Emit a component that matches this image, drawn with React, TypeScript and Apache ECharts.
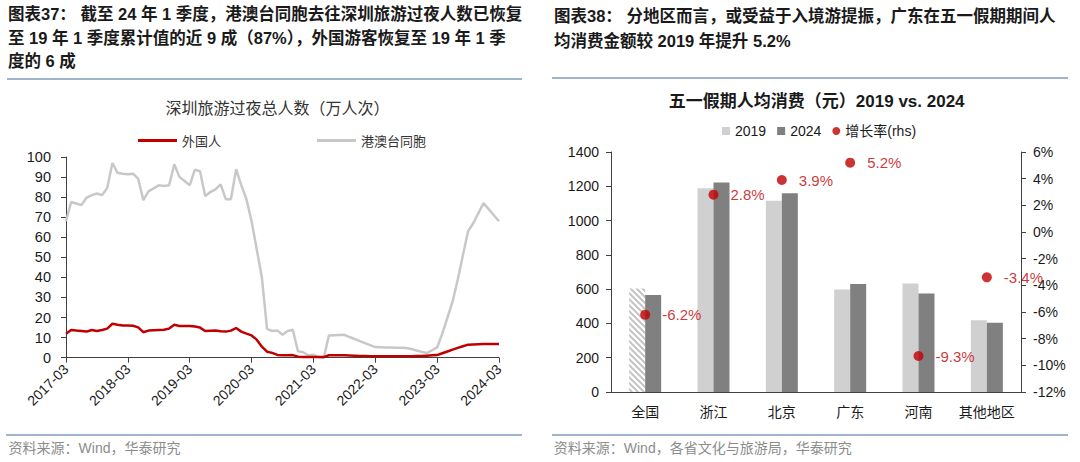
import React, { useEffect, useRef } from "react";
import * as echarts from "echarts";

// ---------- data ----------
const monthLabels: string[] = [];
for (let i = 0; i < 85; i++) {
  const m = 2 + i;
  const y = 2017 + Math.floor(m / 12);
  const mm = (m % 12) + 1;
  monthLabels.push(`${y}-${String(mm).padStart(2, "0")}`);
}

// 外国人 (万人次), 2017-03 .. 2024-03
const foreignVisitors = [
  11.9, 13.8, 13.5, 13.3, 13.0, 13.8, 13.3, 13.8, 14.5, 16.9,
  16.4, 16.1, 16.0, 15.9, 15.1, 12.7, 13.5, 13.7, 13.8, 13.9,
  14.5, 16.4, 15.8, 15.8, 15.8, 15.5, 15.0, 13.3, 13.4, 13.5,
  13.2, 13.0, 13.5, 14.8, 13.0, 12.0, 11.1, 9.0, 5.5, 3.0,
  2.4, 1.4, 1.2, 1.2, 1.3, 0.5, 0.4, 0.3, 0.3, 0.3,
  0.3, 1.2, 1.2, 1.2, 1.2, 1.1, 1.0, 0.9, 0.8, 0.7,
  0.7, 0.7, 0.7, 0.7, 0.7, 0.7, 0.7, 0.7, 0.8, 0.8,
  1.0, 1.2, 1.3, 2.2, 3.1, 4.0, 4.9, 5.7, 6.5, 6.6,
  6.7, 6.8, 6.8, 6.8, 6.8,
];

// 港澳台同胞 (万人次), 2017-03 .. 2024-03
const hkMacauTaiwan = [
  68, 77.6, 76.8, 76, 79.8, 81, 81.8, 81, 84.6, 97,
  92.1, 91.7, 91.4, 91.7, 89.2, 78.5, 82.9, 84.4, 85.9, 85.6,
  85.9, 96.4, 90.1, 88, 85.9, 93.7, 92.9, 80.6, 82.5, 83.9,
  86.4, 79, 79, 93.9, 86, 79, 68, 54, 40, 14.4,
  13.3, 13.6, 11.4, 13.3, 13.9, 3.2, 2.7, 1.2, 1.5, 0.3,
  0, 11.1, 11.2, 11.3, 11.4, 10.3, 9.3, 8.3, 7.3, 6.3,
  5.3, 5.2, 5.1, 5.1, 5.0, 4.9, 4.8, 4.3, 3.6, 2.9,
  2.3, 3.7, 5.1, 12, 20, 28, 39, 51, 63, 67,
  72, 77, 74, 71, 68,
];

const regions = ["全国", "浙江", "北京", "广东", "河南", "其他地区"];
const spend2019 = [604, 1188, 1116, 598, 633, 418];
const spend2024 = [566, 1222, 1159, 630, 574, 404];
const growthRate = [-6.2, 2.8, 3.9, 5.2, -9.3, -3.4];

const leftTitleLines = [
  "图表37： 截至 24 年 1 季度，港澳台同胞去往深圳旅游过夜人数已恢复",
  "至 19 年 1 季度累计值的近 9 成（87%），外国游客恢复至 19 年 1 季",
  "度的 6 成",
];
const rightTitleLines = [
  "图表38： 分地区而言，或受益于入境游提振，广东在五一假期期间人",
  "均消费金额较 2019 年提升 5.2%",
];
const leftChartTitle = "深圳旅游过夜总人数（万人次）";
const rightChartTitle = "五一假期人均消费（元）2019 vs. 2024";
const leftSource = "资料来源：Wind，华泰研究";
const rightSource = "资料来源：Wind，各省文化与旅游局，华泰研究";

// ---------- styles ----------
const NUM = '"Liberation Sans", Arial, "Noto Sans CJK SC", sans-serif';
const CJK = '"Noto Sans CJK SC", "Liberation Sans", sans-serif';
const RED = "#c00000";
const AXIS = "#404040";
const SEP = "#7f9cbf";

const gText = (text: string, x: number, y: number, font: string, fill: string, align = "left") => ({
  type: "text",
  x,
  y,
  silent: true,
  style: { text, font, fill, textAlign: align, textVerticalAlign: "middle", align, verticalAlign: "middle" },
});
const gLine = (x1: number, y1: number, x2: number, y2: number, stroke: string, lineWidth: number) => ({
  type: "line",
  silent: true,
  shape: { x1, y1, x2, y2 },
  style: { stroke, lineWidth },
});

function makeHatch() {
  const s = 6;
  const c = document.createElement("canvas");
  c.width = s;
  c.height = s;
  const ctx = c.getContext("2d");
  if (ctx) {
    ctx.fillStyle = "#ffffff";
    ctx.fillRect(0, 0, s, s);
    ctx.strokeStyle = "#c4c4c4";
    ctx.lineWidth = 2;
    ctx.beginPath();
    for (let k = -1; k <= 1; k++) {
      ctx.moveTo(-3, s * k - 3);
      ctx.lineTo(s + 3, s * k + s + 3);
    }
    ctx.stroke();
  }
  return { image: c, repeat: "repeat", imageWidth: s, imageHeight: s };
}

export default function App() {
  const ref = useRef<HTMLDivElement>(null);
  useEffect(() => {
    if (!ref.current) return;
    const chart = echarts.init(ref.current, null, { renderer: "svg" });
    const yearTick = (i: number) => i % 12 === 0;
    const titleFont = `bold 16.5px ${NUM}`;
    const hatch = makeHatch();
    const option: any = {
      animation: false,
      backgroundColor: "#ffffff",
      grid: [
        { left: 66, top: 157, width: 433, height: 200.7 },
        { left: 611, top: 152, width: 410, height: 240 },
      ],
      legend: [
        {
          data: [
            { name: "外国人", icon: "rect" },
            { name: "港澳台同胞", icon: "rect" },
          ],
          left: 138,
          top: 134,
          padding: 0,
          itemWidth: 39,
          itemHeight: 3,
          itemGap: 96,
          textStyle: { fontSize: 13, fontFamily: CJK, color: "#333" },
        },
        {
          data: [
            { name: "2019", icon: "rect" },
            { name: "2024", icon: "rect" },
            { name: "增长率(rhs)", icon: "circle" },
          ],
          left: 722,
          top: 124,
          padding: 0,
          itemWidth: 8,
          itemHeight: 8,
          itemGap: 11,
          textStyle: { fontSize: 14, fontFamily: NUM, color: "#1a1a1a" },
        },
      ],
      xAxis: [
        {
          gridIndex: 0,
          type: "category",
          data: monthLabels,
          boundaryGap: false,
          axisLine: { lineStyle: { color: AXIS, width: 1 } },
          axisTick: { interval: yearTick, length: 5, lineStyle: { color: AXIS } },
          axisLabel: { interval: yearTick, rotate: 45, fontSize: 14, fontFamily: NUM, color: "#1a1a1a", margin: 9 },
        },
        {
          gridIndex: 1,
          type: "category",
          data: regions,
          axisLine: { lineStyle: { color: AXIS, width: 1 } },
          axisTick: { show: false },
          axisLabel: { interval: 0, fontSize: 14, fontFamily: CJK, color: "#1a1a1a", margin: 12 },
        },
      ],
      yAxis: [
        {
          gridIndex: 0,
          type: "value",
          min: 0,
          max: 100,
          interval: 10,
          splitLine: { show: false },
          axisLine: { show: true, lineStyle: { color: AXIS } },
          axisTick: { show: true, length: 5, lineStyle: { color: AXIS } },
          axisLabel: { fontSize: 14.5, fontFamily: NUM, color: "#1a1a1a", margin: 15 },
        },
        {
          gridIndex: 1,
          type: "value",
          min: 0,
          max: 1400,
          interval: 200,
          splitLine: { show: false },
          axisLine: { show: true, lineStyle: { color: AXIS } },
          axisTick: { show: true, length: 5, lineStyle: { color: AXIS } },
          axisLabel: {
            fontSize: 14,
            fontFamily: NUM,
            color: "#1a1a1a",
            margin: 12,
            formatter: (v: number) => String(v),
          },
        },
        {
          gridIndex: 1,
          type: "value",
          position: "right",
          min: -12,
          max: 6,
          interval: 2,
          splitLine: { show: false },
          axisLine: { show: true, lineStyle: { color: AXIS } },
          axisTick: { show: true, length: 5, lineStyle: { color: AXIS } },
          axisLabel: { fontSize: 14, fontFamily: NUM, color: "#1a1a1a", margin: 12, formatter: "{value}%" },
        },
      ],
      series: [
        {
          name: "港澳台同胞",
          type: "line",
          xAxisIndex: 0,
          yAxisIndex: 0,
          data: hkMacauTaiwan,
          symbol: "none",
          lineStyle: { color: "#c8c8c8", width: 2.5 },
          itemStyle: { color: "#c8c8c8" },
          z: 2,
        },
        {
          name: "外国人",
          type: "line",
          xAxisIndex: 0,
          yAxisIndex: 0,
          data: foreignVisitors,
          symbol: "none",
          lineStyle: { color: RED, width: 2.5 },
          itemStyle: { color: RED },
          z: 3,
        },
        {
          name: "2019",
          type: "bar",
          xAxisIndex: 1,
          yAxisIndex: 1,
          barWidth: 16,
          barGap: "0%",
          data: spend2019.map((v, i) => (i === 0 ? { value: v, itemStyle: { color: hatch } } : v)),
          itemStyle: { color: "#d0d0d0" },
        },
        {
          name: "2024",
          type: "bar",
          xAxisIndex: 1,
          yAxisIndex: 1,
          barWidth: 16,
          barGap: "0%",
          data: spend2024,
          itemStyle: { color: "#808080" },
        },
        {
          name: "增长率(rhs)",
          type: "scatter",
          xAxisIndex: 1,
          yAxisIndex: 2,
          data: growthRate,
          symbolSize: 10,
          itemStyle: { color: RED },
          label: {
            show: true,
            position: "right",
            distance: 12,
            formatter: (p: any) => `${Number(p.value).toFixed(1)}%`,
            color: RED,
            fontSize: 15,
            fontFamily: NUM,
          },
          z: 5,
        },
      ],
      graphic: {
        elements: [
          gText(leftTitleLines[0], 8, 14, titleFont, "#1a1a1a"),
          gText(leftTitleLines[1], 8, 38, titleFont, "#1a1a1a"),
          gText(leftTitleLines[2], 8, 61, titleFont, "#1a1a1a"),
          gText(rightTitleLines[0], 554, 16, titleFont, "#1a1a1a"),
          gText(rightTitleLines[1], 554, 41, titleFont, "#1a1a1a"),
          gLine(7, 79, 522, 79, SEP, 1.5),
          gLine(552, 78, 1068, 78, SEP, 1.5),
          gText(leftChartTitle, 277.6, 106.7, `16px ${CJK}`, "#333333", "center"),
          gText(rightChartTitle, 816.7, 101.7, `bold 17px ${NUM}`, "#1a1a1a", "center"),
          gLine(6, 435, 522, 435, SEP, 1.5),
          gLine(552, 435, 1068, 435, SEP, 1.5),
          gText(leftSource, 8.6, 448, `14px ${NUM}`, "#8c8c8c"),
          gText(rightSource, 553.8, 448, `14px ${NUM}`, "#8c8c8c"),
        ],
      },
    };
    chart.setOption(option);
    return () => chart.dispose();
  }, []);
  return (
    <div
      ref={ref}
      style={{ position: "absolute", left: 0, top: 0, width: 1080, height: 462, background: "#fff" }}
    />
  );
}
